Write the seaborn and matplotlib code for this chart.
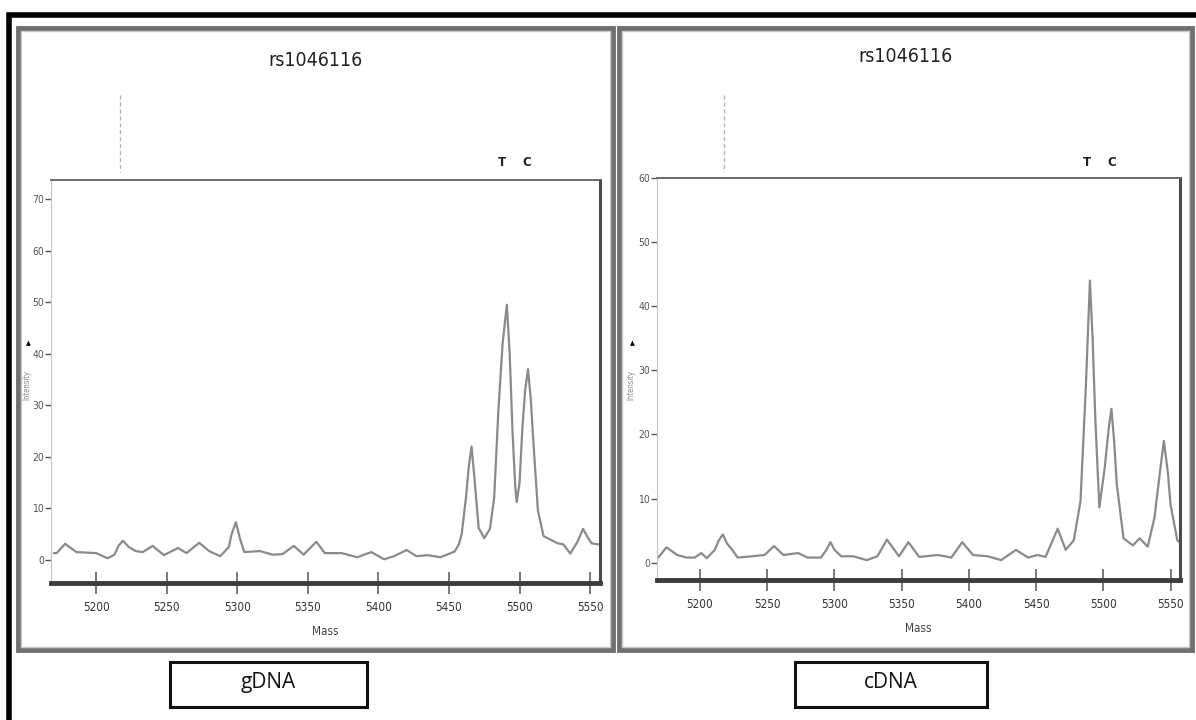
import pandas as pd
import matplotlib
matplotlib.use("Agg")
import matplotlib.pyplot as plt
import seaborn as sns
from matplotlib.patches import Rectangle

# 质谱数据 (Mass vs Intensity)
title = "rs1046116"
tick_mass = [5200, 5250, 5300, 5350, 5400, 5450, 5500, 5550]

# gDNA
mass_g = [5170, 5172, 5178, 5186, 5200, 5208, 5213, 5216, 5219, 5223, 5228, 5233,
          5240, 5248, 5258, 5264, 5273, 5280, 5288, 5294, 5296, 5299, 5302, 5305,
          5316, 5325, 5332, 5340, 5347, 5356, 5362, 5374, 5385, 5395, 5404, 5411,
          5420, 5427, 5435, 5444, 5454, 5457, 5459, 5462, 5464, 5466, 5468, 5471,
          5475, 5479, 5482, 5485, 5488, 5491, 5493, 5495, 5497, 5498, 5500, 5502,
          5504, 5506, 5508, 5510, 5513, 5517, 5527, 5531, 5536, 5541, 5545, 5548,
          5551, 5556]
int_g = [1.3, 1.3, 3.1, 1.5, 1.3, 0.3, 1.0, 2.8, 3.7, 2.5, 1.7, 1.5,
         2.7, 0.9, 2.3, 1.3, 3.3, 1.7, 0.7, 2.5, 5.0, 7.3, 4.0, 1.5,
         1.7, 1.0, 1.1, 2.7, 1.0, 3.5, 1.3, 1.3, 0.5, 1.5, 0.1, 0.7,
         1.9, 0.7, 0.9, 0.5, 1.6, 3.0, 5.0, 12.0, 18.0, 22.0, 16.0, 6.2,
         4.2, 6.0, 12.0, 29.0, 42.0, 49.5, 40.0, 25.0, 14.0, 11.2, 15.0, 25.6,
         33.0, 37.0, 31.0, 22.0, 9.6, 4.6, 3.2, 3.0, 1.2, 3.5, 6.0, 4.5,
         3.2, 3.0]

# cDNA
mass_c = [5169, 5175, 5183, 5190, 5196, 5201, 5205, 5211, 5214, 5217, 5220, 5224,
          5228, 5239, 5248, 5255, 5262, 5273, 5280, 5290, 5294, 5297, 5300, 5305,
          5314, 5324, 5332, 5339, 5348, 5355, 5363, 5377, 5387, 5395, 5403, 5414,
          5424, 5435, 5444, 5451, 5457, 5466, 5472, 5478, 5483, 5487, 5490, 5492,
          5494, 5497, 5501, 5504, 5506, 5508, 5510, 5515, 5522, 5527, 5533, 5538,
          5542, 5545, 5548, 5550, 5555, 5556]
int_c = [0.8, 2.4, 1.2, 0.8, 0.8, 1.5, 0.7, 2.0, 3.5, 4.4, 3.0, 2.0,
         0.8, 1.0, 1.2, 2.6, 1.2, 1.5, 0.8, 0.8, 2.0, 3.2, 2.0, 1.0,
         1.0, 0.4, 1.0, 3.6, 1.0, 3.2, 0.9, 1.2, 0.8, 3.2, 1.2, 1.0,
         0.4, 2.0, 0.8, 1.2, 0.9, 5.3, 2.0, 3.5, 9.6, 27.6, 44.0, 35.0,
         22.5, 8.6, 14.8, 21.0, 24.0, 19.0, 12.2, 3.8, 2.7, 3.8, 2.5, 7.0,
         14.0, 19.0, 14.0, 9.0, 3.5, 3.3]

panels = [
    {"df": pd.DataFrame({"Mass": mass_g, "Intensity": int_g}), "label": "gDNA",
     "yticks": list(range(0, 80, 10)), "ylim": (-4.5, 73.7),
     "ax": (51, 180, 600, 583), "frame": (18, 28, 613, 650),
     "title_y": 60, "dash_x": 120, "tc": (502, 527), "box": (170, 662, 367, 707),
     "ylab_x": 27},
    {"df": pd.DataFrame({"Mass": mass_c, "Intensity": int_c}), "label": "cDNA",
     "yticks": list(range(0, 70, 10)), "ylim": (-2.7, 60),
     "ax": (657, 178, 1180, 580), "frame": (619, 28, 1192, 650),
     "title_y": 56, "dash_x": 724, "tc": (1087, 1112), "box": (795, 662, 987, 707),
     "ylab_x": 631},
]

W, H = 1196, 720
sns.set_style("white")
plt.rcParams["font.family"] = ["DejaVu Sans"]
plt.rcParams["font.stretch"] = "condensed"
fig = plt.figure(figsize=(W / 100, H / 100), dpi=100)


def fx(x):
    return x / W


def fy(y):
    return 1 - y / H


def rect(x0, y0, x1, y1, **kw):
    fig.patches.append(Rectangle((fx(x0), fy(y1)), fx(x1) - fx(x0), fy(y0) - fy(y1),
                                 transform=fig.transFigure, fill=False, **kw))


# outer black frame
rect(9, 15, 1205, 730, lw=4, edgecolor="black")

for p in panels:
    x0, y0, x1, y1 = p["ax"]
    # gray panel border (double line look)
    fx0, fy0, fx1, fy1 = p["frame"]
    rect(fx0, fy0, fx1, fy1, lw=3.5, edgecolor="#6f6f6f")
    rect(fx0 + 3, fy0 + 3, fx1 - 3, fy1 - 3, lw=1.0, edgecolor="#c8c8c8")

    ax = fig.add_axes([fx(x0), fy(y1), fx(x1) - fx(x0), fy(y0) - fy(y1)])
    sns.lineplot(data=p["df"], x="Mass", y="Intensity", ax=ax,
                 color="#8a8a8a", lw=1.6)
    ax.set_xlim(5168, 5557)
    ax.set_ylim(*p["ylim"])
    ax.set_xticks(tick_mass)
    ax.set_xticklabels([str(m) for m in tick_mass], fontsize=8.5, color="#333")
    ax.set_yticks(p["yticks"])
    ax.set_yticklabels([str(v) for v in p["yticks"]], fontsize=7.5, color="#555")
    ax.tick_params(axis="x", bottom=True, direction="inout", length=16, width=1.1,
                   color="#555", pad=5)
    ax.tick_params(axis="y", left=True, direction="out", length=4, width=1.0,
                   color="#555", pad=1)
    ax.set_xlabel("Mass", fontsize=8.5, color="#444", labelpad=8)
    ax.set_ylabel("")
    for side, (c, w) in {"top": ("#6a6a6a", 1.4), "left": ("#c4c4c4", 0.8),
                         "bottom": ("#3c3c3c", 3.5), "right": ("#4a4a4a", 2.2)}.items():
        ax.spines[side].set_color(c)
        ax.spines[side].set_linewidth(w)

    # faint y label
    fig.text(fx(p["ylab_x"]), fy(385), "Intensity", rotation=90, fontsize=5.5,
             color="#8a8a8a", ha="center", va="center")
    fig.text(fx(p["ylab_x"] + 1), fy(343), "▲", fontsize=5, color="black",
             ha="center", va="center")

    cx = (fx0 + fx1) / 2
    fig.text(fx(cx), fy(p["title_y"]), title, fontsize=14, color="#222",
             ha="center", va="center")
    # dashed marker line above the axes
    fig.add_artist(plt.Line2D([fx(p["dash_x"])] * 2, [fy(95), fy(172)],
                              transform=fig.transFigure, color="#b5b5b5",
                              lw=1.0, ls=(0, (3, 2))))
    for letter, xx in zip("TC", p["tc"]):
        fig.text(fx(xx), fy(163), letter, fontsize=8.5, fontweight="bold",
                 color="#222", ha="center", va="center", stretch="normal")

    bx0, by0, bx1, by1 = p["box"]
    rect(bx0, by0, bx1, by1, lw=2.2, edgecolor="#111")
    fig.text(fx((bx0 + bx1) / 2), fy((by0 + by1) / 2 - 2), p["label"],
             fontsize=15, color="#111", ha="center", va="center",
             family=["Open Sans", "DejaVu Sans"], stretch="normal")

plt.savefig("out.png", dpi=100)
